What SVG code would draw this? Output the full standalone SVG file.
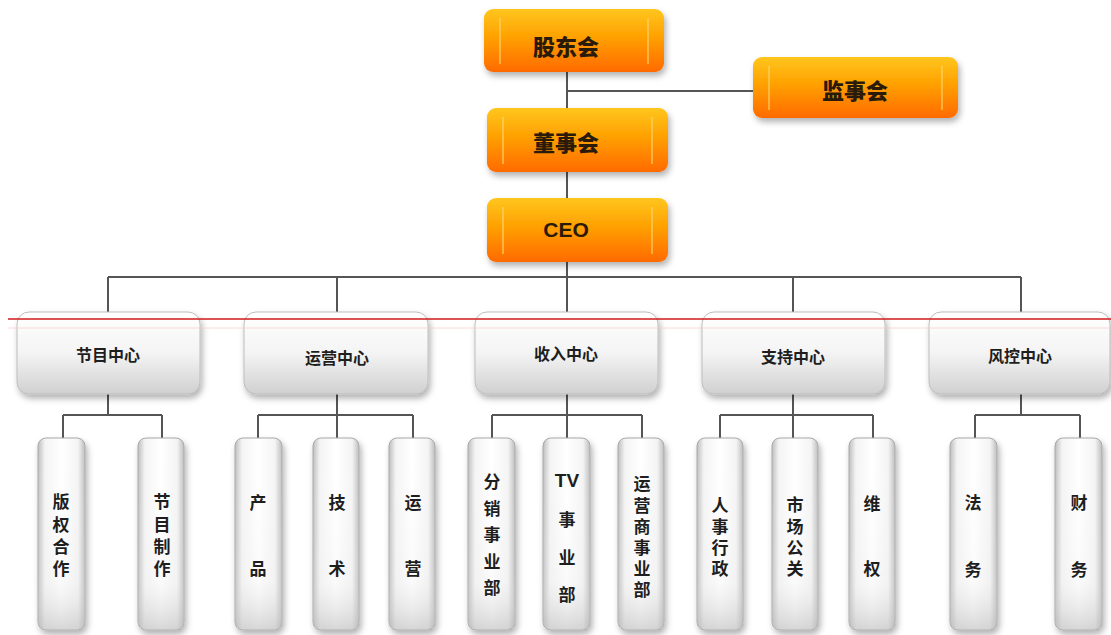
<svg xmlns="http://www.w3.org/2000/svg" width="1111" height="635" viewBox="0 0 1111 635">
<defs>
<linearGradient id="gOrange" x1="0" y1="0" x2="0" y2="1">
<stop offset="0" stop-color="#FFC61E"/>
<stop offset="0.45" stop-color="#FFA000"/>
<stop offset="1" stop-color="#FF6A00"/>
</linearGradient>
<linearGradient id="gGray" x1="0" y1="0" x2="0" y2="1">
<stop offset="0" stop-color="#FFFFFF"/>
<stop offset="0.5" stop-color="#F4F4F4"/>
<stop offset="1" stop-color="#D0D0D0"/>
</linearGradient>
<linearGradient id="gCol" x1="0" y1="0" x2="1" y2="0">
<stop offset="0" stop-color="#BDBDBD"/>
<stop offset="0.15" stop-color="#F4F4F4"/>
<stop offset="0.5" stop-color="#FFFFFF"/>
<stop offset="0.85" stop-color="#F4F4F4"/>
<stop offset="1" stop-color="#BDBDBD"/>
</linearGradient>
<linearGradient id="gColV" x1="0" y1="0" x2="0" y2="1">
<stop offset="0" stop-color="#FFFFFF" stop-opacity="0"/>
<stop offset="0.75" stop-color="#E8E8E8" stop-opacity="0.2"/>
<stop offset="1" stop-color="#BBBBBB" stop-opacity="0.6"/>
</linearGradient>
<filter id="sh" x="-20%" y="-20%" width="140%" height="150%">
<feDropShadow dx="2" dy="4" stdDeviation="3" flood-color="#000" flood-opacity="0.3"/>
</filter>
</defs>
<style>
.ob{fill:url(#gOrange);filter:url(#sh);}
.hl{stroke:#FFD970;stroke-width:2;opacity:0.55;}
.gb{fill:url(#gGray);stroke:#BDBDBD;stroke-width:1;filter:url(#sh);}
.cb{fill:url(#gCol);stroke:#A8A8A8;stroke-width:1;filter:url(#sh);}
.cv{fill:url(#gColV);}
.t1{font-family:"Noto Sans CJK SC","Noto Sans",sans-serif;font-weight:900;font-size:22px;fill:#2A1A0A;text-anchor:middle;dominant-baseline:central;}
.t2{font-family:"Noto Sans CJK SC","Noto Sans",sans-serif;font-weight:700;font-size:16px;fill:#1E1E1E;text-anchor:middle;dominant-baseline:central;}
.t3{font-family:"Noto Sans CJK SC","Noto Sans",sans-serif;font-weight:700;font-size:17px;fill:#1E1E1E;text-anchor:middle;dominant-baseline:central;}
.tv{font-family:"Noto Sans CJK SC","Noto Sans",sans-serif;font-weight:700;font-size:17px;fill:#1E1E1E;writing-mode:vertical-rl;text-anchor:start;}
.ln{fill:none;stroke:#555;stroke-width:2;}
</style>

<g id="connectors" class="ln">
<path d="M567 72 V198"/>
<path d="M567 91 H753"/>
<path d="M567 262 V277"/>
<path d="M108 277 H1021"/>
<path d="M108 277 V312 M337 277 V312 M567 277 V312 M793 277 V312 M1021 277 V312"/>
<path d="M108 394 V415 M63 415 H162 M63 415 V438 M162 415 V438"/>
<path d="M337 394 V438 M258 415 H413 M258 415 V438 M413 415 V438"/>
<path d="M567 394 V438 M492 415 H642 M492 415 V438 M642 415 V438"/>
<path d="M793 394 V438 M720 415 H873 M720 415 V438 M873 415 V438"/>
<path d="M1021 394 V415 M975 415 H1080 M975 415 V438 M1080 415 V438"/>
</g>

<g id="n-gudonghui">
<rect class="ob" x="484" y="9" width="180" height="63" rx="9"/>
<line class="hl" x1="500" y1="18" x2="500" y2="64"/><line class="hl" x1="648" y1="18" x2="648" y2="64"/>
<text class="t1" x="566" y="45">股东会</text>
</g>
<g id="n-jianshihui">
<rect class="ob" x="753" y="57" width="205" height="61" rx="9"/>
<line class="hl" x1="769" y1="66" x2="769" y2="110"/><line class="hl" x1="942" y1="66" x2="942" y2="110"/>
<text class="t1" x="855" y="89">监事会</text>
</g>
<g id="n-dongshihui">
<rect class="ob" x="487" y="108" width="181" height="64" rx="9"/>
<line class="hl" x1="503" y1="117" x2="503" y2="164"/><line class="hl" x1="652" y1="117" x2="652" y2="164"/>
<text class="t1" x="566" y="141">董事会</text>
</g>
<g id="n-ceo">
<rect class="ob" x="487" y="198" width="181" height="64" rx="9"/>
<line class="hl" x1="503" y1="207" x2="503" y2="254"/><line class="hl" x1="652" y1="207" x2="652" y2="254"/>
<text class="t1" x="566" y="229" style="font-family:'Liberation Sans',sans-serif;font-weight:700;font-size:21px">CEO</text>
</g>

<g id="n-jiemu-center"><rect class="gb" x="17" y="312" width="183" height="82" rx="12"/><text class="t2" x="108" y="354">节目中心</text></g>
<g id="n-yunying-center"><rect class="gb" x="244" y="312" width="184" height="82" rx="12"/><text class="t2" x="337" y="357">运营中心</text></g>
<g id="n-shouru-center"><rect class="gb" x="475" y="312" width="183" height="82" rx="12"/><text class="t2" x="566" y="353">收入中心</text></g>
<g id="n-zhichi-center"><rect class="gb" x="702" y="312" width="183" height="82" rx="12"/><text class="t2" x="793" y="356">支持中心</text></g>
<g id="n-fengkong-center"><rect class="gb" x="929" y="312" width="181" height="82" rx="12"/><text class="t2" x="1020" y="355">风控中心</text></g>

<g id="red-line">
<line x1="8" y1="319" x2="1111" y2="319" stroke="#D21A1A" stroke-width="1.5"/>
<line x1="8" y1="328" x2="1111" y2="328" stroke="#F6CACA" stroke-width="1" opacity="0.7"/>
</g>

<g id="n-banquan"><rect class="cb" x="38" y="438" width="47" height="192" rx="8"/><rect class="cv" x="38" y="438" width="47" height="192" rx="8"/>
<text class="tv" x="61" y="493.5" letter-spacing="5.3">版权合作</text></g>
<g id="n-jiemuzhizuo"><rect class="cb" x="138" y="438" width="46" height="192" rx="8"/><rect class="cv" x="138" y="438" width="46" height="192" rx="8"/>
<text class="tv" x="162" y="493.5" letter-spacing="5.3">节目制作</text></g>

<g id="n-chanpin"><rect class="cb" x="235" y="438" width="47" height="192" rx="8"/><rect class="cv" x="235" y="438" width="47" height="192" rx="8"/>
<text class="tv" x="258" y="494.5" letter-spacing="49">产品</text></g>
<g id="n-jishu"><rect class="cb" x="313" y="438" width="46" height="192" rx="8"/><rect class="cv" x="313" y="438" width="46" height="192" rx="8"/>
<text class="tv" x="337" y="494.5" letter-spacing="49">技术</text></g>
<g id="n-yunying"><rect class="cb" x="389" y="438" width="46" height="192" rx="8"/><rect class="cv" x="389" y="438" width="46" height="192" rx="8"/>
<text class="tv" x="413" y="494.5" letter-spacing="49">运营</text></g>

<g id="n-fenxiao"><rect class="cb" x="468" y="438" width="47" height="192" rx="8"/><rect class="cv" x="468" y="438" width="47" height="192" rx="8"/>
<text class="tv" x="492" y="473.5" letter-spacing="9.5">分销事业部</text></g>
<g id="n-tv"><rect class="cb" x="543" y="438" width="47" height="192" rx="8"/><rect class="cv" x="543" y="438" width="47" height="192" rx="8"/>
<text class="t3" x="567" y="480" style="font-family:'Liberation Sans',sans-serif;font-size:19px">TV</text>
<text class="tv" x="567" y="511.5" letter-spacing="20.5">事业部</text></g>
<g id="n-yunyingshang"><rect class="cb" x="618" y="438" width="46" height="192" rx="8"/><rect class="cv" x="618" y="438" width="46" height="192" rx="8"/>
<text class="tv" x="642" y="475.5" letter-spacing="4.2">运营商事业部</text></g>

<g id="n-renshi"><rect class="cb" x="697" y="438" width="46" height="192" rx="8"/><rect class="cv" x="697" y="438" width="46" height="192" rx="8"/>
<text class="tv" x="720" y="497.5" letter-spacing="4">人事行政</text></g>
<g id="n-shichang"><rect class="cb" x="772" y="438" width="46" height="192" rx="8"/><rect class="cv" x="772" y="438" width="46" height="192" rx="8"/>
<text class="tv" x="795" y="496.5" letter-spacing="4.3">市场公关</text></g>
<g id="n-weiquan"><rect class="cb" x="849" y="438" width="46" height="192" rx="8"/><rect class="cv" x="849" y="438" width="46" height="192" rx="8"/>
<text class="tv" x="872" y="495.5" letter-spacing="48">维权</text></g>

<g id="n-fawu"><rect class="cb" x="950" y="438" width="47" height="192" rx="8"/><rect class="cv" x="950" y="438" width="47" height="192" rx="8"/>
<text class="tv" x="973" y="494.5" letter-spacing="50">法务</text></g>
<g id="n-caiwu"><rect class="cb" x="1055" y="438" width="47" height="192" rx="8"/><rect class="cv" x="1055" y="438" width="47" height="192" rx="8"/>
<text class="tv" x="1079" y="494.5" letter-spacing="50">财务</text></g>
</svg>
